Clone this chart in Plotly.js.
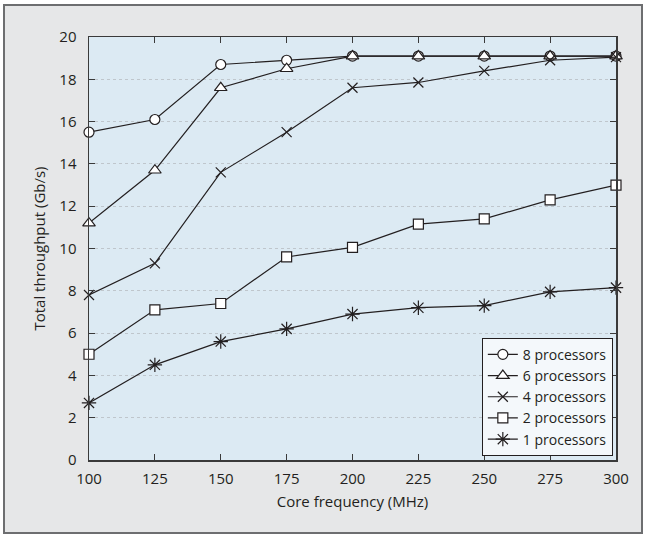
<!DOCTYPE html>
<html><head><meta charset="utf-8">
<script src="https://cdn.plot.ly/plotly-3.0.1.min.js"></script>
<style>
html,body{margin:0;padding:0;background:#fff;}
#frame{position:absolute;left:3px;top:4px;width:636px;height:526px;border:2px solid #6d6e70;background:#e6e7e8;}
#chart{width:636px;height:526px;}
</style></head>
<body>
<div id="frame"><div id="chart"></div></div>
<script>
const freq = [100,125,150,175,200,225,250,275,300];
const names = ['8 processors','6 processors','4 processors','2 processors','1 processors'];
const p8 = [15.5,16.1,18.7,18.9,19.1,19.1,19.1,19.1,19.1];
const p6 = [11.2,13.7,17.6,18.5,19.1,19.1,19.1,19.1,19.1];
const p4 = [7.8,9.3,13.6,15.5,17.6,17.85,18.4,18.9,19.05];
const p2 = [5.0,7.1,7.4,9.6,10.05,11.15,11.4,12.3,13.0];
const p1 = [2.7,4.5,5.6,6.2,6.9,7.2,7.3,7.95,8.15];
const yTicks = [0,2,4,6,8,10,12,14,16,18,20];
const xTicks = freq;

const series = [p8,p6,p4,p2,p1];
const symbols = ['circle','triangle-up','x-thin-open','square','asterisk-open'];
const sizes = [10,11,10,10,12];
const fills = ['#ffffff','#ffffff','#231f20','#ffffff','#231f20'];
const traces = series.map((ys,i)=>({
  x: freq, y: ys, name: names[i], type:'scatter', mode:'lines+markers',
  line:{color:'#231f20', width:1.2},
  marker:{symbol:symbols[i], size:sizes[i], color:fills[i],
    line:{color:'#231f20', width:1.2}},
  cliponaxis:false
}));

const font = {family:'"Open Sans", "Noto Sans", sans-serif', size:15, color:'#231f20'};
const layout = {
  width:636, height:526,
  margin:{l:84, r:25, t:31, b:72},
  paper_bgcolor:'#e6e7e8', plot_bgcolor:'#dceaf3',
  font: font,
  showlegend:true,
  legend:{x:0.994, y:0.01, xanchor:'right', yanchor:'bottom',
    bgcolor:'#f4f8fb', bordercolor:'#231f20', borderwidth:1,
    font:{family:font.family, size:14, color:'#231f20'},
    tracegroupgap:0, itemwidth:30},
  xaxis:{range:[100,300], tickvals:xTicks, ticktext:xTicks.map(String),
    ticks:'inside', ticklen:6, tickcolor:'#3a3a3a', mirror:'ticks',
    showline:true, linecolor:'#3a3a3a', linewidth:1.5, showgrid:false, zeroline:false,
    tickfont:{size:15}, ticklabelstandoff:4,
    title:{text:'Core frequency (MHz)', standoff:10, font:{size:15}}},
  yaxis:{range:[0,20], tickvals:yTicks, ticktext:yTicks.map(String),
    ticks:'inside', ticklen:6, tickcolor:'#3a3a3a', mirror:'ticks',
    showline:true, linecolor:'#3a3a3a', linewidth:1.5,
    showgrid:true, gridcolor:'#bfc6cc', griddash:'dot', gridwidth:1, zeroline:false,
    tickfont:{size:15}, ticklabelstandoff:8,
    title:{text:'Total throughput (Gb/s)', standoff:10, font:{size:15}}}
};
Plotly.newPlot('chart', traces, layout, {displayModeBar:false, staticPlot:true});
</script>
</body></html>
